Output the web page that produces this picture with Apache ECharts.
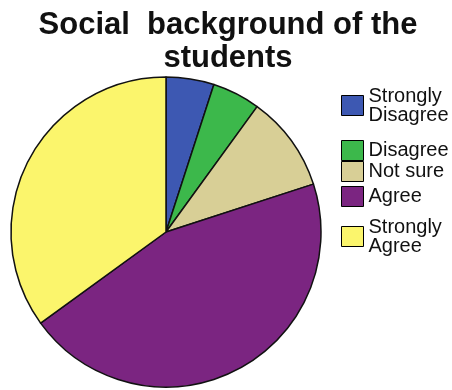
<!DOCTYPE html>
<html>
<head>
<meta charset="utf-8">
<script src="https://cdn.jsdelivr.net/npm/echarts@6/dist/echarts.min.js"></script>
<style>
  html, body { margin: 0; padding: 0; background: #fff; }
  #main { width: 452px; height: 390px; }
</style>
</head>
<body>
<div id="main"></div>
<script>
  // chart data
  var categories = ['Strongly Disagree', 'Disagree', 'Not sure', 'Agree', 'Strongly Agree']
  var legendLabels = ['Strongly\nDisagree', 'Disagree', 'Not sure', 'Agree', 'Strongly\nAgree']
  var values = [5, 5, 10, 45, 35]
  var colors = ['#3d58b2', '#3cb84b', '#d8cf96', '#7b2581', '#fbf56c']

  // legend rows sit at uneven heights in the original
  var legendTops = [86, 140, 161, 186, 217]

  var chart = echarts.init(document.getElementById('main'))

  var legends = categories.map(function (name, i) {
    return {
      data: [name],
      left: 341,
      top: legendTops[i],
      padding: 0,
      orient: 'vertical',
      icon: 'rect',
      itemWidth: 22,
      itemHeight: 20,
      itemGap: 0,
      selectedMode: false,
      itemStyle: { borderColor: '#000', borderWidth: 1 },
      formatter: function () { return legendLabels[i] },
      textStyle: {
        color: '#111',
        fontSize: 20,
        lineHeight: 19,
        fontFamily: '"Liberation Sans", Arial, sans-serif'
      }
    }
  })

  chart.setOption({
    backgroundColor: '#fff',
    animation: false,
    title: {
      text: 'Social  background of the\nstudents',
      left: 223,
      textAlign: 'center',
      top: 4,
      textStyle: {
        color: '#111',
        fontSize: 31,
        lineHeight: 33,
        fontWeight: 'bold',
        fontFamily: '"Liberation Sans", Arial, sans-serif'
      }
    },
    legend: legends,
    series: [{
      type: 'pie',
      center: [166, 232],
      radius: 155,
      startAngle: 90,
      clockwise: true,
      label: { show: false },
      labelLine: { show: false },
      emphasis: { disabled: true },
      itemStyle: { borderColor: '#111', borderWidth: 1.5 },
      data: categories.map(function (name, i) {
        return { name: name, value: values[i], itemStyle: { color: colors[i] } }
      })
    }]
  })
</script>
</body>
</html>
